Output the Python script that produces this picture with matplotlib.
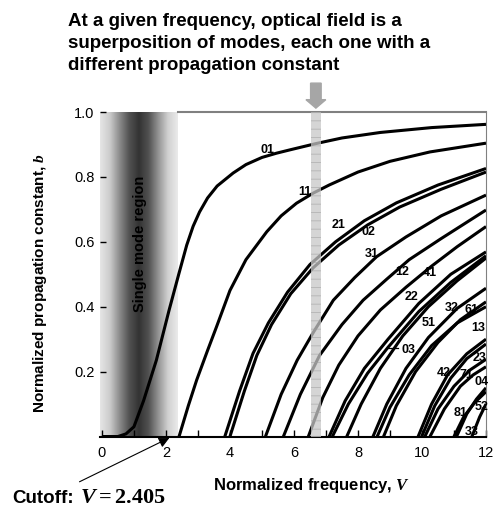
import matplotlib
matplotlib.use('Agg')
import matplotlib.pyplot as plt
import numpy as np
from matplotlib.colors import LinearSegmentedColormap

plt.rcParams['font.family'] = ['Liberation Sans', 'DejaVu Sans']
plt.rcParams['mathtext.fontset'] = 'custom'
plt.rcParams['mathtext.rm'] = 'Liberation Serif:bold'
plt.rcParams['mathtext.it'] = 'Liberation Serif:italic:bold'
plt.rcParams['hatch.linewidth'] = 0.6

# LP mode curves: (normalized frequency V, b)
V_01 = [0, 0.5, 0.75, 1.0, 1.3, 1.7, 2.1, 2.4, 2.65, 2.85, 3.05, 3.3, 3.6, 4.1, 4.5, 5.0,
        5.45, 5.9, 6.7, 7.5, 8.7, 10.3, 12]
b_01 = [0, 0, 0.008, 0.03, 0.11, 0.235, 0.39, 0.50, 0.59, 0.648, 0.692, 0.735, 0.772, 0.812,
        0.838, 0.86, 0.873, 0.884, 0.903, 0.92, 0.937, 0.952, 0.962]
V_11 = [2.41, 2.7, 2.96, 3.3, 3.58, 4.0, 4.5, 5.15, 5.6, 6.08, 6.6, 7.1, 8.0, 9.0, 10.25, 12]
b_11 = [0, 0.095, 0.174, 0.265, 0.338, 0.45, 0.545, 0.631, 0.68, 0.719, 0.75, 0.775, 0.815,
        0.848, 0.877, 0.904]
V_21 = [3.84, 4.3, 4.72, 5.2, 5.8, 6.5, 7.3, 8.2, 9.2, 10.5, 12]
b_21 = [0, 0.14, 0.256, 0.35, 0.445, 0.53, 0.60, 0.665, 0.72, 0.775, 0.826]
V_02 = [4.0, 4.45, 4.84, 5.3, 5.9, 6.6, 7.4, 8.3, 9.3, 10.6, 12]
b_02 = [0, 0.14, 0.25, 0.345, 0.44, 0.52, 0.59, 0.652, 0.707, 0.762, 0.815]
V_31 = [5.11, 5.6, 6.1, 6.6, 7.23, 7.9, 8.58, 9.5, 10.6, 12]
b_31 = [0, 0.13, 0.235, 0.32, 0.42, 0.49, 0.554, 0.615, 0.68, 0.744]
V_12 = [5.67, 6.2, 6.8, 7.5, 8.16, 8.9, 9.6, 10.6, 12]
b_12 = [0, 0.13, 0.25, 0.345, 0.42, 0.485, 0.545, 0.61, 0.698]
V_41 = [6.45, 6.9, 7.4, 8.0, 8.7, 9.5, 10.3, 11.1, 12]
b_41 = [0, 0.12, 0.22, 0.31, 0.39, 0.46, 0.525, 0.585, 0.647]
V_22 = [7.1, 7.6, 8.2, 8.94, 9.9, 10.9, 12]
b_22 = [0, 0.11, 0.21, 0.30, 0.41, 0.50, 0.569]
V_03 = [7.2, 7.7, 8.3, 8.94, 9.9, 10.9, 12]
b_03 = [0, 0.10, 0.195, 0.275, 0.385, 0.475, 0.557]
V_51 = [7.65, 8.1, 8.7, 9.4, 10.2, 11.1, 12]
b_51 = [0, 0.10, 0.21, 0.31, 0.40, 0.48, 0.55]
V_32 = [8.47, 8.9, 9.5, 10.2, 11.1, 12]
b_32 = [0, 0.10, 0.21, 0.305, 0.395, 0.457]
V_13 = [8.6, 9.0, 9.6, 10.3, 11.1, 12]
b_13 = [0, 0.09, 0.19, 0.28, 0.35, 0.40]
V_61 = [8.8, 9.2, 9.8, 10.5, 11.2, 12]
b_61 = [0, 0.095, 0.20, 0.29, 0.36, 0.415]
V_42 = [9.88, 10.3, 10.8, 11.4, 12]
b_42 = [0, 0.10, 0.19, 0.255, 0.30]
V_71 = [9.99, 10.4, 10.9, 11.4, 12]
b_71 = [0, 0.095, 0.18, 0.24, 0.285]
V_23 = [10.09, 10.5, 11.0, 11.5, 12]
b_23 = [0, 0.085, 0.155, 0.205, 0.238]
V_04 = [10.25, 10.7, 11.2, 11.6, 12]
b_04 = [0, 0.085, 0.155, 0.19, 0.215]
V_52 = [11.0, 11.3, 11.65, 12]
b_52 = [0, 0.06, 0.105, 0.138]
V_81 = [11.08, 11.4, 11.7, 12]
b_81 = [0, 0.07, 0.115, 0.15]
V_33 = [11.56, 11.8, 12]
b_33 = [0, 0.06, 0.10]

curves = [(V_01, b_01), (V_11, b_11), (V_21, b_21), (V_02, b_02), (V_31, b_31),
          (V_12, b_12), (V_41, b_41), (V_22, b_22), (V_03, b_03), (V_51, b_51),
          (V_32, b_32), (V_13, b_13), (V_61, b_61), (V_42, b_42), (V_71, b_71),
          (V_23, b_23), (V_04, b_04), (V_52, b_52), (V_81, b_81), (V_33, b_33)]

# mode labels and where they sit
mode_names = ['01', '11', '21', '02', '31', '12', '41', '22', '32', '61',
              '51', '13', '03', '23', '42', '71', '04', '81', '52', '33']
label_V = [5.16, 6.34, 7.38, 8.32, 8.43, 9.37, 10.23, 9.66, 10.93, 11.55,
           10.2, 11.75, 9.57, 11.81, 10.67, 11.4, 11.87, 11.19, 11.87, 11.55]
label_b = [0.882, 0.752, 0.652, 0.631, 0.561, 0.508, 0.505, 0.431, 0.395, 0.39,
           0.349, 0.334, 0.267, 0.241, 0.195, 0.19, 0.169, 0.071, 0.092, 0.015]

fig = plt.figure(figsize=(5.0, 5.08), dpi=100)
ax = fig.add_axes([0.2, 0.1407, 0.772, 0.6388])
ax.set_xlim(-0.06, 12)
ax.set_ylim(0, 1.0)

# single mode region shading
grays = [0.90, 0.80, 0.55, 0.32, 0.2, 0.32, 0.58, 0.82, 0.92]
cmap = LinearSegmentedColormap.from_list('band', [(g, g, g) for g in grays])
ax.imshow(np.linspace(0, 1, 256)[None, :], extent=[-0.06, 2.375, 0, 1.0],
          aspect='auto', cmap=cmap, zorder=0.5)
ax.text(1.19, 0.593, 'Single mode region', rotation=90, ha='center', va='center',
        fontsize=10.5, fontweight='bold', color='black', zorder=1)

for V, b in curves:
    ax.plot(V, b, color='black', lw=2.2, solid_capstyle='butt', solid_joinstyle='round', zorder=3)

for name, lv, lb in zip(mode_names, label_V, label_b):
    ax.text(lv, lb, name, fontsize=9, fontweight='bold', ha='center', va='center', zorder=4)
ax.plot([8.95, 9.25], [0.272, 0.272], color='black', lw=0.9, zorder=4)

# frequency marker band and arrow
ax.axvspan(6.53, 6.84, facecolor=(0.78, 0.78, 0.78, 0.75), edgecolor=(0.62, 0.62, 0.62, 0.6),
           hatch='--', lw=0, zorder=5)
ax.arrow(6.685, 1.089, 0, -0.077, width=0.33, head_width=0.62, head_length=0.026,
         length_includes_head=True, color='#a6a6a6', clip_on=False, zorder=6)

for s in ['left', 'top']:
    ax.spines[s].set_visible(False)
ax.spines['right'].set_color('#808080')
ax.spines['bottom'].set_linewidth(1.5)
ax.plot([2.375, 12], [1.0, 1.0], color='#808080', lw=1.5, clip_on=False, zorder=2)

ax.set_xticks(np.arange(0, 13, 2))
ax.set_xticks(np.arange(0, 13, 1), minor=True)
ax.set_yticks([0.2, 0.4, 0.6, 0.8, 1.0])
ax.set_yticklabels(['0.2', '0.4', '0.6', '0.8', '1.0'])
ax.tick_params(axis='x', which='both', direction='in', length=5, width=1, pad=7, labelsize=10.5)
ax.tick_params(axis='y', direction='in', length=4, width=1, pad=4, labelsize=10.5)

fig.text(0.136, 0.9488, 'At a given frequency, optical field is a', fontsize=13.5, fontweight='bold')
fig.text(0.136, 0.9055, 'superposition of modes, each one with a', fontsize=13.5, fontweight='bold')
fig.text(0.136, 0.8622, 'different propagation constant', fontsize=13.5, fontweight='bold')

fig.text(0.08, 0.443, 'Normalized propagation constant, $b$', rotation=90, ha='center', va='center',
         fontsize=11, fontweight='bold')
fig.text(0.624, 0.0354, 'Normalized frequency, $V$', ha='center', va='baseline',
         fontsize=12, fontweight='bold')

fig.text(0.024, 0.0098, 'Cutoff:', fontsize=13.5, fontweight='bold', va='baseline')
fig.text(0.16, 0.0098, '$V = 2.405$', fontsize=16, va='baseline')
ax.annotate('', xy=(2.19, 0.0), xycoords='data', xytext=(77, 25), textcoords='figure pixels',
            arrowprops=dict(arrowstyle='-|>', color='black', lw=0.8, mutation_scale=16),
            annotation_clip=False)

fig.savefig('out.png', dpi=100)
